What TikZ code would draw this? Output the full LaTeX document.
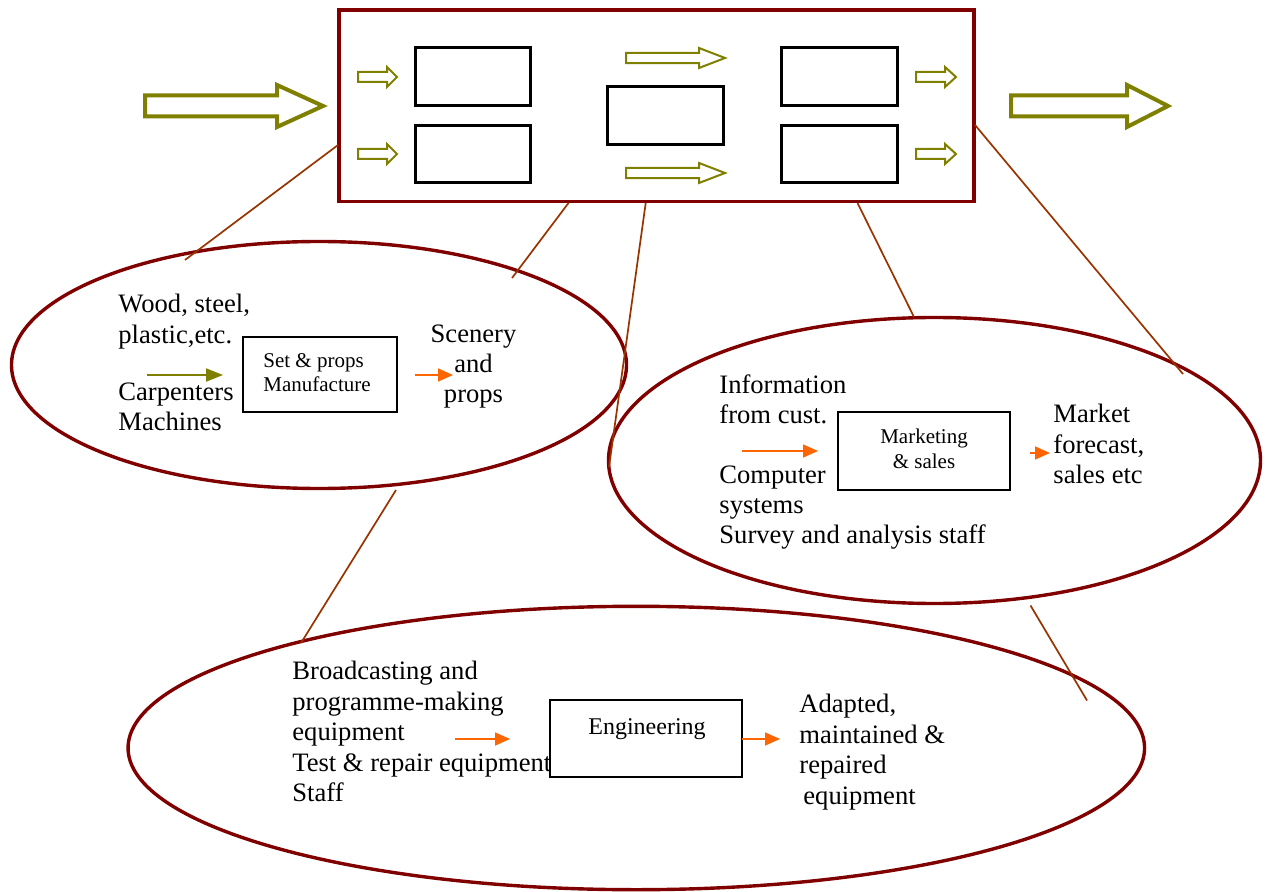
\documentclass[tikz,border=0pt]{standalone}
\usepackage{fontspec}
\setmainfont{Liberation Serif}
\usetikzlibrary{shapes.geometric,arrows.meta}

\definecolor{framered}{RGB}{128,0,0}
\definecolor{olivec}{RGB}{128,128,0}
\definecolor{linkbrown}{RGB}{153,51,0}
\definecolor{floworange}{RGB}{255,102,0}

\tikzset{
  % hollow block arrow: total length / shaft half-height / head half-height / head length
  pics/blockarrow/.style args={#1/#2/#3/#4}{code={
    \draw (0,-#2) -- ({#1-#4},-#2) -- ({#1-#4},-#3) -- (#1,0)
          -- ({#1-#4},#3) -- ({#1-#4},#2) -- (0,#2) -- cycle;
  }},
  bigblock/.style={color=olivec, line width=2pt, line join=miter},
  smallblock/.style={color=olivec, line width=1pt, line join=miter},
  mainframe/.style={draw=framered, line width=1.75pt, inner sep=0pt,
    minimum width=317.5pt, minimum height=95.85pt},
  stagebox/.style={draw=black, line width=1.5pt, inner sep=0pt,
    minimum width=57.5pt, minimum height=29pt},
  zone/.style={ellipse, draw=framered, line width=1.7pt, inner sep=0pt},
  procbox/.style={draw=black, line width=0.8pt, inner sep=0pt},
  linkline/.style={draw=linkbrown, line width=0.85pt},
  bigtext/.style={font=\fontsize{13.3}{15.2}\selectfont, inner sep=0pt, align=left, anchor=north west},
  boxtext/.style={font=\fontsize{10.5}{12.3}\selectfont, inner sep=0pt},
  oliveflow/.style={draw=olivec, fill=olivec, line width=1pt,
    -{Triangle[length=8.5pt,width=6.5pt]}},
  orangeflow/.style={draw=floworange, fill=floworange, line width=0.85pt,
    -{Triangle[length=7.5pt,width=6.5pt]}},
}

\begin{document}
\begin{tikzpicture}[x=0.5pt,y=-0.5pt]
\useasboundingbox (0,0) rectangle (1267,892);

% ---------- overall process frame ----------
\node[mainframe] (proc) at (656.5,105.8) {};
\node[stagebox] (s1) at (473,77) {};
\node[stagebox, minimum height=28.5pt] (s2) at (473,154) {};
\node[stagebox, minimum width=58pt, minimum height=28.75pt] (s3) at (665.5,115.3) {};
\node[stagebox, minimum width=58pt] (s4) at (839.5,77) {};
\node[stagebox, minimum width=58pt, minimum height=28.5pt] (s5) at (839.5,154) {};

% inputs and outputs of the frame
\pic[bigblock] at (145,106) {blockarrow={178/10.5/21/46}};
\pic[bigblock] at (1011,106) {blockarrow={157/10.5/21/41}};
\pic[smallblock] at (358,77) {blockarrow={39/5/10/10}};
\pic[smallblock] at (358,154) {blockarrow={39/5/10/10}};
\pic[smallblock] at (626,58) {blockarrow={99/5.2/10/26}};
\pic[smallblock] at (626,173) {blockarrow={99/5.2/10/26}};
\pic[smallblock] at (916,77) {blockarrow={40/5/10/11}};
\pic[smallblock] at (916,154) {blockarrow={40/5/10/11}};

% ---------- detail zones ----------
\node[zone, minimum width=307.5pt, minimum height=123.5pt] (zsets) at (319,365) {};
\node[zone, minimum width=326pt, minimum height=143pt] (zmkt) at (934.5,460.5) {};
\node[zone, minimum width=508.25pt, minimum height=141.7pt] (zeng) at (636.3,748) {};

% connector end points
\coordinate (p1a) at (338,145);   \coordinate (p1b) at (185,260);
\coordinate (p2a) at (568.5,203); \coordinate (p2b) at (512,278);
\coordinate (p3a) at (645.7,203); \coordinate (p3b) at (609,467);
\coordinate (p4a) at (857.5,203); \coordinate (p4b) at (914,317);
\coordinate (p5a) at (975,125);   \coordinate (p5b) at (1183,374);
\coordinate (p6a) at (396,490);   \coordinate (p6b) at (301,643);
\coordinate (p7a) at (1030.5,605.5); \coordinate (p7b) at (1087,700.5);
\draw[linkline] (p1a) -- (p1b);
\draw[linkline] (p2a) -- (p2b);
\draw[linkline] (p3a) -- (p3b);
\draw[linkline] (p4a) -- (p4b);
\draw[linkline] (p5a) -- (p5b);
\draw[linkline] (p6a) -- (p6b);
\draw[linkline] (p7a) -- (p7b);

% ---------- set & props ----------
\node[bigtext] (wood) at (118,294) {Wood, steel,\\plastic,etc.};
\node[bigtext] (carp) at (118,382) {Carpenters\\Machines};
\node[procbox, minimum width=77pt, minimum height=37.5pt] (setbox) at (320,374.5) {};
\node[boxtext, align=left, anchor=north west] (settext) at (263,353) {Set \& props\\Manufacture};
\node[bigtext, align=center, anchor=north] (scenery) at (473.5,324) {Scenery\\and\\props};
\draw[oliveflow] (147,375) -- (223,375);
\draw[orangeflow] (415,375) -- (453,375);

% ---------- marketing ----------
\node[bigtext] (info) at (719,374) {Information\\from cust.};
\node[bigtext] (comp) at (719,465) {Computer\\systems\\Survey and analysis staff};
\node[procbox, minimum width=86pt, minimum height=39pt] (mktbox) at (924,451) {};
\node[boxtext, align=center, anchor=north] (mkttext) at (924,428.5) {Marketing\\\& sales};
\node[bigtext] (forecast) at (1053,404) {Market\\forecast,\\sales etc};
\draw[orangeflow] (742,451) -- (818,451);
\draw[orangeflow] (1030,453) -- (1050,453);

% ---------- engineering ----------
\node[bigtext] (equip) at (292,661) {Broadcasting and\\programme-making\\equipment\\Test \& repair equipment\\Staff};
\node[bigtext] (adapted) at (799,694) {Adapted,\\maintained \&\\repaired\\\hspace{2pt}equipment};
\node[procbox, minimum width=96pt, minimum height=38.5pt] (engbox) at (646,738.5) {};
\node[font=\fontsize{12}{14}\selectfont, inner sep=0pt, anchor=base] (engtext) at (647,734.5) {Engineering};
\draw[orangeflow] (455,739) -- (510,739);
\draw[orangeflow] (742,739) -- (780,739);
\end{tikzpicture}
\end{document}
